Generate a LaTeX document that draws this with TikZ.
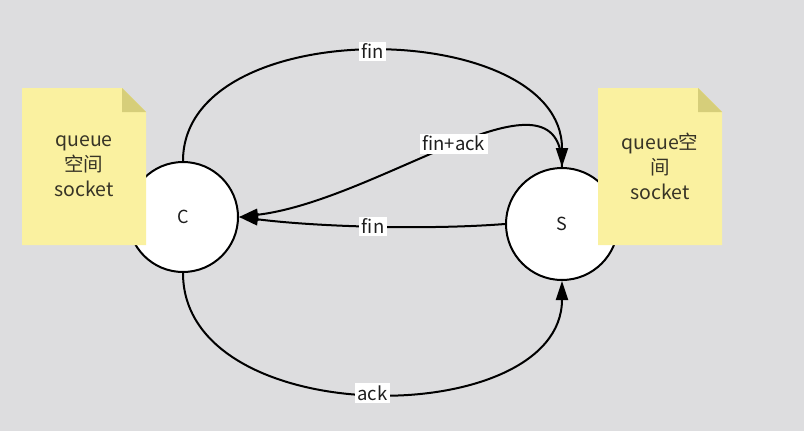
\documentclass[tikz,border=0pt]{standalone}
\usepackage{fontspec}
\setmainfont{Noto Sans CJK SC}
\usetikzlibrary{arrows.meta}
\definecolor{bg}{RGB}{221,221,223}
\definecolor{notey}{RGB}{250,241,160}
\definecolor{foldy}{RGB}{214,206,122}
\definecolor{notetext}{RGB}{55,52,38}
\definecolor{lbltext}{RGB}{30,30,30}
\begin{document}
\begin{tikzpicture}[x=1pt,y=-1pt,
  peer/.style={circle, draw=black, line width=2pt, fill=white, minimum size=110pt, inner sep=0pt, font=\fontsize{18}{18}\selectfont, text=lbltext},
  notebox/.style={rectangle, fill=bg, minimum width=124pt, minimum height=157pt, inner sep=0pt, align=center, text=notetext, font=\fontsize{19.5}{25}\selectfont,
    path picture={
      \fill[notey] (path picture bounding box.south west) -- (path picture bounding box.north west) -- ([xshift=-24pt]path picture bounding box.north east) -- ([yshift=-24pt]path picture bounding box.north east) -- (path picture bounding box.south east) -- cycle;
      \fill[foldy] ([xshift=-24pt]path picture bounding box.north east) -- ([yshift=-24pt]path picture bounding box.north east) -- ([xshift=-24pt,yshift=-24pt]path picture bounding box.north east) -- cycle;}},
  msg/.style={-{Triangle[length=19pt,width=12pt]}, line width=2pt, draw=black},
  lbl/.style={fill=white, inner sep=2.5pt, font=\fontsize{18.5}{18.5}\selectfont, text=lbltext}]
\useasboundingbox (0,0) rectangle (804,431);
\fill[bg] (0,0) rectangle (804,431);
\node[peer] (C) at (183,217) {C};
\node[peer, minimum size=112pt] (S) at (562,224) {S};
\draw[msg] (C.north) .. controls +(0,-150) and +(0,-150) .. node[lbl]{fin} (S.north);
\draw[msg] (S.north) .. controls +(0,-112) and +(142,-17) .. node[lbl]{fin+ack} (C.east);
\draw[msg] (S.west) .. controls +(-77,6) and +(80,10) .. node[lbl]{fin} (C.east);
\draw[msg] (C.south) .. controls +(0,160) and +(0,150) .. node[lbl]{ack} (S.south);
\node[notebox] (NL) at (84,166.5) {queue\\空间\\socket};
\node[notebox] (NR) at (660,166.5) {queue空\\间\\socket};
\end{tikzpicture}
\end{document}
